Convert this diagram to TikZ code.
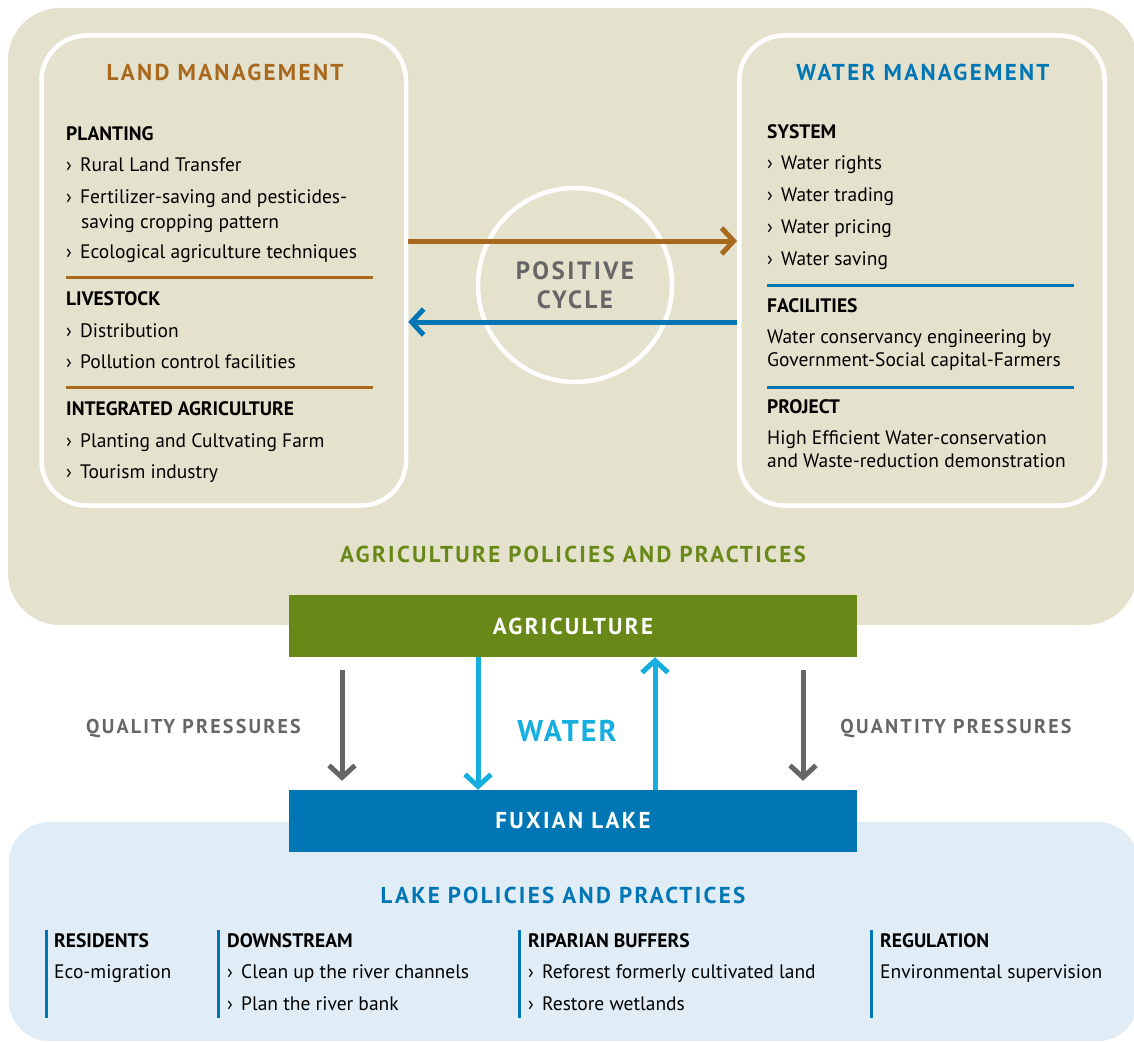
\documentclass[tikz,border=0pt]{standalone}
\usepackage{fontspec}
\setmainfont{PT Sans}
\usetikzlibrary{arrows.meta,positioning}

\definecolor{landbrown}{RGB}{168,105,31}
\definecolor{waterblue}{RGB}{0,118,181}
\definecolor{agrigreen}{RGB}{104,137,23}
\definecolor{lightwater}{RGB}{22,174,222}
\definecolor{pressgray}{RGB}{102,102,102}
\definecolor{beigebg}{RGB}{228,225,205}
\definecolor{lakebg}{RGB}{224,237,246}

\newcommand{\bul}{›\hspace{0.42em}}

\tikzset{
  itm/.style={anchor=base west, inner sep=0pt, font=\fontsize{19.5}{23}\selectfont},
  hd/.style={itm, font=\fontsize{19.5}{23}\selectfont\bfseries},
  ttl/.style={anchor=base, inner sep=0pt, font=\fontsize{23}{27}\selectfont\bfseries\addfontfeatures{LetterSpace=10}},
  panel/.style={draw=white, line width=4.5pt, rounded corners=45pt, inner sep=0pt},
  bar/.style={rectangle, inner sep=0pt, minimum width=568pt, minimum height=62pt, text=white,
    font=\fontsize{23}{27}\selectfont\bfseries\addfontfeatures{LetterSpace=10}},
  cyc/.style={line width=5pt, -{Straight Barb[length=12pt,width=26pt]}},
  flow/.style={line width=5pt, -{Straight Barb[length=12pt,width=26pt]}},
}

\begin{document}
\begin{tikzpicture}[x=1pt, y=-1pt]
  \useasboundingbox (0,0) rectangle (1134,1041);
  \clip (0,0) rectangle (1134,1041);

  % Backgrounds
  \fill[beigebg, rounded corners=52pt] (8,8) rectangle (1137,625);
  \fill[lakebg, rounded corners=40pt] (9,822) rectangle (1138,1041);

  % Panels
  \node[panel, minimum width=364.5pt, minimum height=470pt] (lp) at (223.75,270.5) {}; %
  \node[panel, minimum width=365.5pt, minimum height=470pt] (rp) at (922,270.5) {}; %

  % Positive cycle
  \node[circle, draw=white, line width=4.5pt, minimum size=194pt, align=center, text=pressgray,
    font=\fontsize{25}{29}\selectfont\bfseries\addfontfeatures{LetterSpace=10}] (pc) at (575,285) {POSITIVE\\CYCLE}; %

  % Land management
  \node[ttl, text=landbrown] (lm) at (225,80) {LAND MANAGEMENT}; %
  \node[hd] (pl) at (66,140) {PLANTING}; %
  \node[itm, below=31pt of pl.base west, anchor=base west] (pl1) {\bul Rural Land Transfer}; %
  \node[itm, below=32pt of pl1.base west, anchor=base west] (pl2) {\bul Fertilizer-saving and pesticides-}; %
  \node[itm] (pl2b) at (81,228) {saving cropping pattern}; %
  \node[itm] (pl3) at (66,258) {\bul Ecological agriculture techniques}; %
  \node[hd] (ls) at (66,305) {LIVESTOCK}; %
  \node[itm, below=32pt of ls.base west, anchor=base west] (ls1) {\bul Distribution}; %
  \node[itm, below=31pt of ls1.base west, anchor=base west] (ls2) {\bul Pollution control facilities}; %
  \node[hd] (ia) at (66,415) {INTEGRATED AGRICULTURE}; %
  \node[itm, below=32pt of ia.base west, anchor=base west] (ia1) {\bul Planting and Cultvating Farm}; %
  \node[itm, below=31pt of ia1.base west, anchor=base west] (ia2) {\bul Tourism industry}; %
  \draw[landbrown, line width=3pt] (66,277) -- (373,277);
  \draw[landbrown, line width=3pt] (66,387) -- (373,387);

  % Water management
  \node[ttl, text=waterblue] (wm) at (923,80) {WATER MANAGEMENT}; %
  \node[hd] (sy) at (767,138) {SYSTEM}; %
  \node[itm, below=31pt of sy.base west, anchor=base west] (sy1) {\bul Water rights}; %
  \node[itm, below=32pt of sy1.base west, anchor=base west] (sy2) {\bul Water trading}; %
  \node[itm, below=32pt of sy2.base west, anchor=base west] (sy3) {\bul Water pricing}; %
  \node[itm, below=32pt of sy3.base west, anchor=base west] (sy4) {\bul Water saving}; %
  \node[hd] (fa) at (767,312) {FACILITIES}; %
  \node[itm, below=31pt of fa.base west, anchor=base west] (fa1) {Water conservancy engineering by}; %
  \node[itm, below=23pt of fa1.base west, anchor=base west] (fa2) {Government-Social capital-Farmers}; %
  \node[hd] (pr) at (767,413) {PROJECT}; %
  \node[itm, below=31pt of pr.base west, anchor=base west] (pr1) {High Efficient Water-conservation}; %
  \node[itm, below=23pt of pr1.base west, anchor=base west] (pr2) {and Waste-reduction demonstration}; %
  \draw[waterblue, line width=3pt] (767,285) -- (1074,285);
  \draw[waterblue, line width=3pt] (767,387) -- (1074,387);

  % Cycle arrows
  \draw[cyc, landbrown] ([yshift=29.5pt]lp.east) -- ([yshift=29.5pt]rp.west);
  \draw[cyc, waterblue] ([yshift=-51.5pt]rp.west) -- ([yshift=-51.5pt]lp.east);

  % Agriculture and lake
  \node[ttl, text=agrigreen] (ap) at (573,562) {AGRICULTURE POLICIES AND PRACTICES}; %
  \node[bar, fill=agrigreen] (ag) at (573,626) {AGRICULTURE}; %
  \node[bar, fill=waterblue] (lk) at (573,821) {FUXIAN LAKE}; %

  % Pressures and water
  \draw[flow, pressgray] ([shift={(-231pt,-13pt)}]ag.south) -- ([shift={(-231pt,9pt)}]lk.north);
  \draw[flow, pressgray] ([shift={(230pt,-13pt)}]ag.south) -- ([shift={(230pt,9pt)}]lk.north);
  \draw[flow, lightwater] ([xshift=-95pt]ag.south) -- ([xshift=-95pt]lk.north);
  \draw[flow, lightwater] ([xshift=82pt]lk.north) -- ([xshift=82pt]ag.south);
  \node[ttl, text=pressgray, font=\fontsize{20}{24}\selectfont\bfseries\addfontfeatures{LetterSpace=11}] (qlp) at (193.5,733) {QUALITY PRESSURES}; %
  \node[ttl, text=pressgray, font=\fontsize{20}{24}\selectfont\bfseries\addfontfeatures{LetterSpace=11}] (qnp) at (956,733) {QUANTITY PRESSURES}; %
  \node[ttl, text=lightwater, font=\fontsize{30}{34}\selectfont\bfseries\addfontfeatures{LetterSpace=7}] (wt) at (567,741) {WATER}; %

  % Lake policies
  \node[ttl, text=waterblue] (lpp) at (563,903) {LAKE POLICIES AND PRACTICES}; %
  \foreach \bx in {46,218,519,871}
    \draw[waterblue, line width=3pt] (\bx,930) -- (\bx,1018);
  \node[hd] (re) at (54,947) {RESIDENTS}; %
  \node[itm] (re1) at (54,978) {Eco-migration}; %
  \node[hd] (ds) at (227,947) {DOWNSTREAM}; %
  \node[itm] (ds1) at (227,978) {\bul Clean up the river channels}; %
  \node[itm] (ds2) at (227,1010) {\bul Plan the river bank}; %
  \node[hd] (rb) at (528,947) {RIPARIAN BUFFERS}; %
  \node[itm] (rb1) at (528,978) {\bul Reforest formerly cultivated land}; %
  \node[itm] (rb2) at (528,1010) {\bul Restore wetlands}; %
  \node[hd] (rg) at (880,947) {REGULATION}; %
  \node[itm] (rg1) at (880,978) {Environmental supervision}; %

\end{tikzpicture}
\end{document}
